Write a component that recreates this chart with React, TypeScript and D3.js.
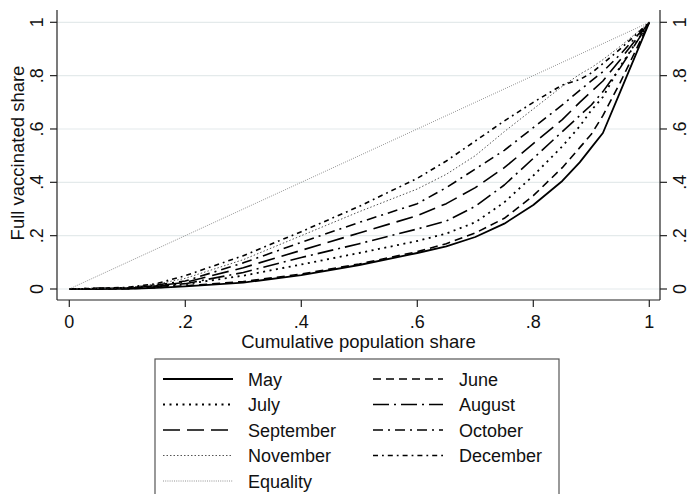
import React from "react";
import * as d3 from "d3";

const xs = [0, 0.1, 0.15, 0.2, 0.3, 0.4, 0.5, 0.6, 0.65, 0.7, 0.75, 0.8, 0.85, 0.88, 0.9, 0.92, 0.95, 1];
const may = [0, 0.001, 0.004, 0.01, 0.024, 0.052, 0.09, 0.135, 0.16, 0.195, 0.245, 0.315, 0.405, 0.475, 0.53, 0.585, 0.74, 1];
const june = [0, 0.001, 0.005, 0.012, 0.028, 0.056, 0.094, 0.14, 0.17, 0.21, 0.265, 0.35, 0.455, 0.53, 0.58, 0.65, 0.775, 1];
const july = [0, 0.002, 0.008, 0.018, 0.05, 0.092, 0.135, 0.18, 0.208, 0.25, 0.325, 0.425, 0.535, 0.61, 0.67, 0.72, 0.835, 1];
const august = [0, 0.003, 0.01, 0.02, 0.062, 0.118, 0.17, 0.225, 0.255, 0.31, 0.39, 0.49, 0.59, 0.65, 0.69, 0.74, 0.83, 1];
const september = [0, 0.004, 0.012, 0.025, 0.08, 0.145, 0.21, 0.275, 0.32, 0.38, 0.455, 0.545, 0.635, 0.7, 0.74, 0.78, 0.86, 1];
const october = [0, 0.005, 0.015, 0.03, 0.098, 0.175, 0.25, 0.32, 0.38, 0.45, 0.52, 0.605, 0.69, 0.745, 0.78, 0.815, 0.88, 1];
const november = [0, 0.005, 0.018, 0.04, 0.11, 0.2, 0.29, 0.375, 0.43, 0.5, 0.59, 0.675, 0.76, 0.805, 0.83, 0.86, 0.91, 1];
const december = [0, 0.006, 0.02, 0.05, 0.125, 0.215, 0.31, 0.415, 0.48, 0.555, 0.63, 0.7, 0.765, 0.785, 0.81, 0.845, 0.9, 1];
const equality = [0, 0.1, 0.15, 0.2, 0.3, 0.4, 0.5, 0.6, 0.65, 0.7, 0.75, 0.8, 0.85, 0.88, 0.9, 0.92, 0.95, 1];

const xTicks = [0, 0.2, 0.4, 0.6, 0.8, 1];
const xTickLabels = ["0", ".2", ".4", ".6", ".8", "1"];
const yTicks = [0, 0.2, 0.4, 0.6, 0.8, 1];
const yTickLabels = ["0", ".2", ".4", ".6", ".8", "1"];

const seriesNames = ["May", "June", "July", "August", "September", "October", "November", "December", "Equality"];
const seriesValues = [may, june, july, august, september, october, november, december, equality];

type Style = { dash: string; width: number; color: string };
const styles: Style[] = [
  { dash: "none", width: 1.8, color: "#000" },
  { dash: "8,5", width: 1.6, color: "#000" },
  { dash: "2,4.5", width: 1.8, color: "#000" },
  { dash: "16,5,2,5", width: 1.6, color: "#000" },
  { dash: "17,7", width: 1.6, color: "#000" },
  { dash: "10,5,2,5", width: 1.6, color: "#000" },
  { dash: "1.5,2", width: 1, color: "#555" },
  { dash: "5,4,1.8,4", width: 1.6, color: "#000" },
  { dash: "1,1.2", width: 0.8, color: "#777" },
];

const FONT = "'Liberation Sans', Arial, sans-serif";

export default function App() {
  const x = d3.scaleLinear().domain([0, 1]).range([69.3, 649.3]);
  const y = d3.scaleLinear().domain([0, 1]).range([289, 22.3]);
  const left = 57, right = 660, top = 10, bottom = 300;
  const line = d3
    .line<number>()
    .x((_, i) => x(xs[i]))
    .y((d) => y(d));

  const legendRows = [379, 404.5, 430, 455.5, 481];
  const colLineX = [163, 373];
  const colTextX = [248, 459];
  const lineLen = 70;

  return (
    <svg
      width={688}
      height={494}
      style={{ position: "absolute", left: 0, top: 0, background: "#fff" }}
      fontFamily={FONT}
    >
      <rect x={0} y={0} width={688} height={494} fill="#fff" />
      {yTicks.map((t) => (
        <line key={"g" + t} x1={left} x2={right} y1={y(t)} y2={y(t)} stroke="#e4eaeb" strokeWidth={1.2} />
      ))}
      {seriesValues.map((vals, i) => (
        <path
          key={seriesNames[i]}
          d={line(vals) || ""}
          fill="none"
          stroke={styles[i].color}
          strokeWidth={styles[i].width}
          strokeDasharray={styles[i].dash}
          strokeLinejoin="round"
        />
      ))}
      <line x1={left} x2={left} y1={top} y2={bottom} stroke="#222" strokeWidth={1.2} />
      <line x1={right} x2={right} y1={top} y2={bottom} stroke="#222" strokeWidth={1.2} />
      <line x1={left} x2={right} y1={bottom} y2={bottom} stroke="#222" strokeWidth={1.2} />
      {xTicks.map((t, i) => (
        <g key={"xt" + t}>
          <line x1={x(t)} x2={x(t)} y1={bottom} y2={bottom + 7} stroke="#222" strokeWidth={1.2} />
          <text x={x(t)} y={328} textAnchor="middle" fontSize={18} fill="#111">
            {xTickLabels[i]}
          </text>
        </g>
      ))}
      {yTicks.map((t, i) => (
        <g key={"yt" + t}>
          <line x1={left - 7} x2={left} y1={y(t)} y2={y(t)} stroke="#222" strokeWidth={1.2} />
          <line x1={right} x2={right + 7} y1={y(t)} y2={y(t)} stroke="#222" strokeWidth={1.2} />
          <text
            transform={`translate(${42.5},${y(t)}) rotate(-90)`}
            textAnchor="middle"
            fontSize={18}
            fill="#111"
          >
            {yTickLabels[i]}
          </text>
          <text
            transform={`translate(${686},${y(t)}) rotate(-90)`}
            textAnchor="middle"
            fontSize={18}
            fill="#111"
          >
            {yTickLabels[i]}
          </text>
        </g>
      ))}
      <text x={(left + right) / 2} y={348} textAnchor="middle" fontSize={18.5} fill="#111">
        Cumulative population share
      </text>
      <text
        transform={`translate(${23.5},${(top + bottom) / 2 - 2}) rotate(-90)`}
        textAnchor="middle"
        fontSize={18.5}
        fill="#111"
      >
        Full vaccinated share
      </text>
      <rect x={155} y={359} width={404} height={145} fill="#fff" stroke="#555" strokeWidth={1.2} />
      {seriesNames.map((name, i) => {
        const row = Math.floor(i / 2);
        const col = i % 2;
        const cy = legendRows[row];
        const s = styles[i];
        return (
          <g key={"lg" + name}>
            <line
              x1={colLineX[col]}
              x2={colLineX[col] + lineLen}
              y1={cy}
              y2={cy}
              stroke={s.color}
              strokeWidth={s.width}
              strokeDasharray={s.dash}
            />
            <text x={colTextX[col]} y={cy + 6.5} fontSize={18} fill="#111">
              {name}
            </text>
          </g>
        );
      })}
    </svg>
  );
}
